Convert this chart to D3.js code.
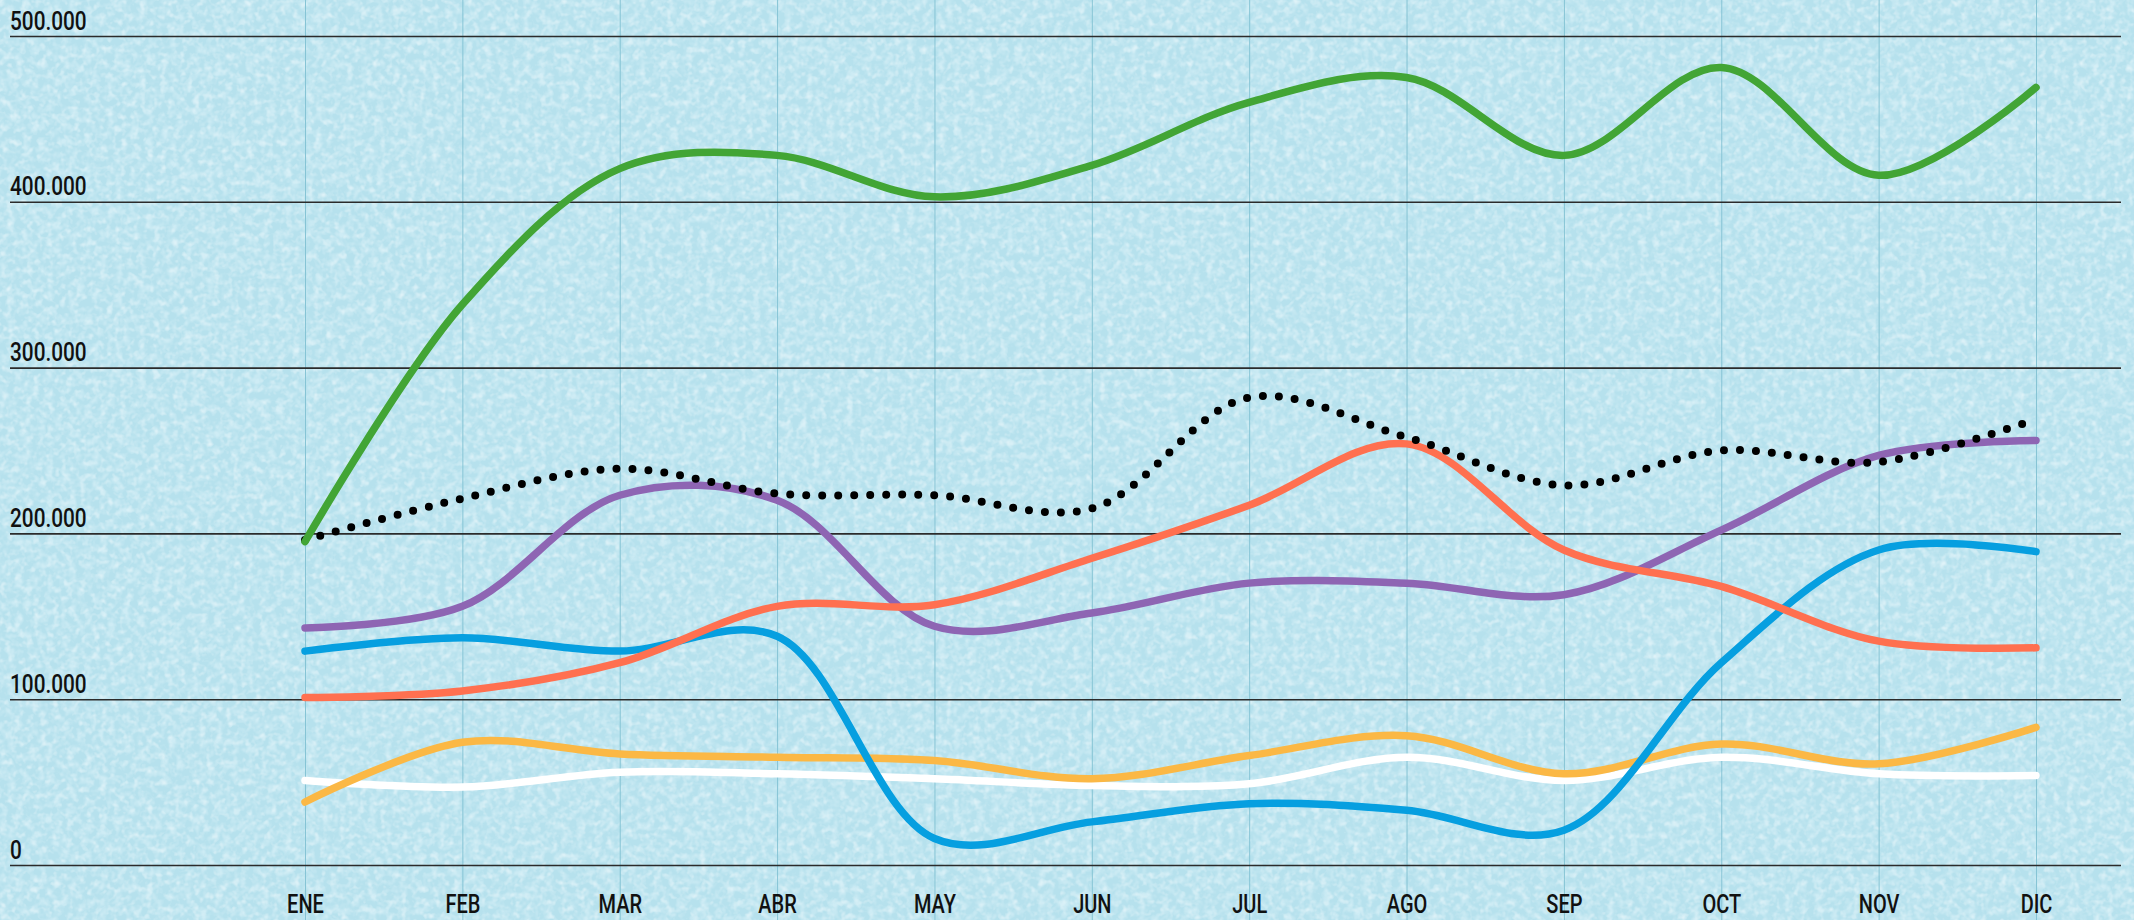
<!DOCTYPE html>
<html>
<head>
<meta charset="utf-8">
<script src="https://cdn.jsdelivr.net/npm/d3@7"></script>
<style>
  html, body { margin: 0; padding: 0; background: #b9e2ee; }
  svg { display: block; }
  text { font-family: "Roboto", "Liberation Sans", sans-serif; font-weight: 500; fill: #111; }
</style>
</head>
<body>
<div id="chart"></div>
<script>
// months and y ticks
var months = ["ENE", "FEB", "MAR", "ABR", "MAY", "JUN", "JUL", "AGO", "SEP", "OCT", "NOV", "DIC"];
var yTicks = [0, 100000, 200000, 300000, 400000, 500000];

// series values
var green  = [195000, 338000, 420000, 428000, 403000, 422000, 460000, 475000, 428000, 481000, 416000, 469000];
var dotted = [196000, 221000, 239000, 224000, 223000, 215000, 282000, 258000, 229000, 250000, 243000, 269000];
var purple = [143000, 156000, 223000, 220000, 144000, 152000, 170000, 170000, 163000, 202000, 247000, 256000];
var orange = [101000, 105000, 122000, 156000, 157000, 185000, 217000, 254000, 190000, 168000, 135000, 131000];
var blue   = [129000, 137000, 129000, 138000, 16000, 26000, 37000, 33000, 21000, 122000, 190000, 189000];
var yellow = [38000, 74000, 67000, 65000, 63000, 52000, 66000, 78000, 55000, 73000, 61000, 83000];
var white  = [51000, 47000, 56000, 55000, 52000, 48000, 49000, 65000, 51000, 65000, 55000, 54000];

var W = 2134, H = 920;

var svg = d3.select("#chart")
	.append("svg")
	.attr("width", W)
	.attr("height", H);

// paper-like background texture
var defs = svg.append("defs");
var f = defs.append("filter").attr("id", "grain")
	.attr("x", 0).attr("y", 0).attr("width", "100%").attr("height", "100%");
f.append("feTurbulence")
	.attr("type", "fractalNoise")
	.attr("baseFrequency", 0.13)
	.attr("numOctaves", 2)
	.attr("seed", 4);
f.append("feColorMatrix")
	.attr("type", "matrix")
	.attr("values", "0 0 0 0 0.62  0 0 0 0 0.84  0 0 0 0 0.91  2.6 0 0 0 -1.1");

var f2 = defs.append("filter").attr("id", "grain2")
	.attr("x", 0).attr("y", 0).attr("width", "100%").attr("height", "100%");
f2.append("feTurbulence")
	.attr("type", "fractalNoise")
	.attr("baseFrequency", 0.15)
	.attr("numOctaves", 2)
	.attr("seed", 11);
f2.append("feColorMatrix")
	.attr("type", "matrix")
	.attr("values", "0 0 0 0 0.78  0 0 0 0 0.91  0 0 0 0 0.95  2 0 0 0 -1.0");

svg.append("rect").attr("width", W).attr("height", H).attr("fill", "#b6e1ed");
svg.append("rect").attr("width", W).attr("height", H).attr("filter", "url(#grain)");
svg.append("rect").attr("width", W).attr("height", H).attr("filter", "url(#grain2)");

var x = d3.scalePoint().domain(months).range([305, 2036]);
var y = d3.scaleLinear().domain([0, 500000]).range([865, 36]);

var fmt = d3.formatLocale({ decimal: ",", thousands: ".", grouping: [3], currency: ["", "€"] }).format(",d");

// vertical month lines + labels
var xAxis = svg.append("g")
	.attr("transform", "translate(0," + H + ")")
	.call(d3.axisTop(x).tickSize(H).tickSizeOuter(0));
xAxis.select(".domain").remove();
xAxis.selectAll(".tick line").attr("stroke", "#86c4d5").attr("stroke-width", 1);
xAxis.selectAll(".tick text")
	.attr("y", 0)
	.attr("dy", 0)
	.attr("transform", "translate(0,-7) scale(0.8,1)")
	.style("font-size", "25px")
	.style("font-family", "Roboto, 'Liberation Sans', sans-serif")
	.style("font-weight", 500)
	.attr("fill", "#111");

// horizontal grid lines + labels
var yAxis = svg.append("g")
	.attr("transform", "translate(10,0)")
	.call(d3.axisRight(y).tickValues(yTicks).tickSize(2111).tickFormat(fmt));
yAxis.select(".domain").remove();
yAxis.selectAll(".tick line").attr("stroke", "#2b2b2b").attr("stroke-width", 1.6);
yAxis.selectAll(".tick text")
	.attr("x", 0)
	.attr("y", 0)
	.attr("dy", 0)
	.attr("transform", "translate(0,-7) scale(0.8,1)")
	.attr("text-anchor", "start")
	.style("font-size", "26px")
	.style("font-family", "Roboto, 'Liberation Sans', sans-serif")
	.style("font-weight", 500)
	.attr("fill", "#111");

var line = d3.line()
	.x(function(d, i) { return x(months[i]); })
	.y(function(d) { return y(d); })
	.curve(d3.curveCatmullRom.alpha(0.5));

var series = [
	{ values: white,  color: "#ffffff", dash: null,   width: 7.5 },
	{ values: yellow, color: "#fbb845", dash: null,   width: 7.5 },
	{ values: blue,   color: "#069fe0", dash: null,   width: 7.5 },
	{ values: purple, color: "#8e65b3", dash: null,   width: 7.5 },
	{ values: orange, color: "#ff7050", dash: null,   width: 7.5 },
	{ values: dotted, color: "#000000", dash: "0 16", width: 8 },
	{ values: green,  color: "#42a535", dash: null,   width: 7.5 }
];

svg.selectAll(".series")
	.data(series)
	.enter().append("path")
	.attr("class", "series")
	.attr("d", function(d) { return line(d.values); })
	.attr("fill", "none")
	.attr("stroke", function(d) { return d.color; })
	.attr("stroke-width", function(d) { return d.width; })
	.attr("stroke-linecap", "round")
	.attr("stroke-linejoin", "round")
	.attr("stroke-dasharray", function(d) { return d.dash; });
</script>
</body>
</html>
